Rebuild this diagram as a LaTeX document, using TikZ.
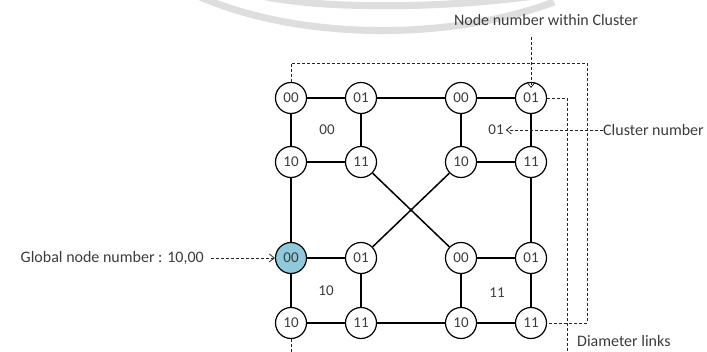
\documentclass[tikz,border=0pt]{standalone}
\usepackage{fontspec}
\setmainfont{Carlito}
\usetikzlibrary{arrows.meta}
\definecolor{labelgray}{RGB}{60,60,60}
\definecolor{hiblue}{RGB}{142,202,219}
\definecolor{bandgray}{RGB}{222,222,222}
\tikzset{
  pnode/.style={circle, draw=black, line width=1.2pt, fill=white, minimum size=31pt,
                inner sep=0pt, text=labelgray, font=\fontsize{15}{15}\selectfont},
  link/.style={line width=1.5pt, black},
  dlink/.style={line width=0.8pt, dash pattern=on 3pt off 2pt, black!85},
  note/.style={text=labelgray, inner sep=0pt, font=\fontsize{16}{16}\selectfont},
  cnum/.style={text=labelgray, inner sep=0pt, font=\fontsize{15}{15}\selectfont},
  barb/.style={-{Straight Barb[length=5pt,width=8pt,line width=0.8pt]}}
}
\begin{document}
\begin{tikzpicture}[x=1pt, y=-1pt]
\useasboundingbox (0,0) rectangle (707,352);
\fill[white] (0,0) rectangle (707,352);

% faint arcs along the top edge
\draw[bandgray, line width=7pt] (198,-4) .. controls (300,41) and (450,41) .. (554,2);
\draw[bandgray, line width=7pt] (262,-4) .. controls (320,9) and (440,9) .. (534,-4);

% cluster 00
\node[pnode] (c00n00) at (291,98)  {00};
\node[pnode] (c00n01) at (361,98)  {01};
\node[pnode] (c00n10) at (291,162) {10};
\node[pnode] (c00n11) at (361,162) {11};
% cluster 01
\node[pnode] (c01n00) at (461,98)  {00};
\node[pnode] (c01n01) at (531,98)  {01};
\node[pnode] (c01n10) at (461,162) {10};
\node[pnode] (c01n11) at (531,162) {11};
% cluster 10
\node[pnode, fill=hiblue] (c10n00) at (291,258) {00};
\node[pnode] (c10n01) at (361,258) {01};
\node[pnode] (c10n10) at (291,323) {10};
\node[pnode] (c10n11) at (361,323) {11};
% cluster 11
\node[pnode] (c11n00) at (461,258) {00};
\node[pnode] (c11n01) at (531,258) {01};
\node[pnode] (c11n10) at (461,323) {10};
\node[pnode] (c11n11) at (531,323) {11};

% cluster numbers
\node[cnum] (k00) at (327,130) {00};
\node[cnum] (k01) at (496,130) {01};
\node[cnum] (k10) at (326,291) {10};
\node[cnum] (k11) at (497,293) {11};

% links inside clusters
\foreach \c in {c00,c01,c10,c11} {
  \draw[link] (\c n00) -- (\c n01);
  \draw[link] (\c n00) -- (\c n10);
  \draw[link] (\c n01) -- (\c n11);
  \draw[link] (\c n10) -- (\c n11);
}
% links between clusters
\draw[link] (c00n01) -- (c01n00);
\draw[link] (c10n11) -- (c11n10);
\draw[link] (c00n10) -- (c10n00);
\draw[link] (c01n11) -- (c11n01);
\draw[link] (c00n11) -- (c11n00);
\draw[link] (c01n10) -- (c10n01);

% diameter links
\coordinate (topturn) at (587,63);
\coordinate (botB) at (567,352);
\draw[dlink] (c00n00.north) |- (topturn) |- (c11n11.east);
\draw[dlink] (c01n01.east) -| (botB);
\draw[dlink] (c10n10.south) -- (c10n10.south |- botB);

% annotations
\node[note] (nnwc) at (546,20) {Node number within Cluster};
\coordinate (nnwcfoot) at (531,37);
\coordinate (nnwctip) at (531,88);
\draw[dlink, barb] (nnwcfoot) -- (nnwctip);

\node[note, anchor=west] (clnum) at (603,130) {Cluster number};
\draw[dlink, barb] (clnum.west) -- ([xshift=2pt]k01.east);

\node[note, anchor=east] (glob) at (204,258) {Global node number : 10,00};
\draw[dlink, barb, shorten <=7pt] (glob.east) -- (c10n00.west);

\node[note, anchor=west] (diam) at (577,341) {Diameter links};
\end{tikzpicture}
\end{document}
